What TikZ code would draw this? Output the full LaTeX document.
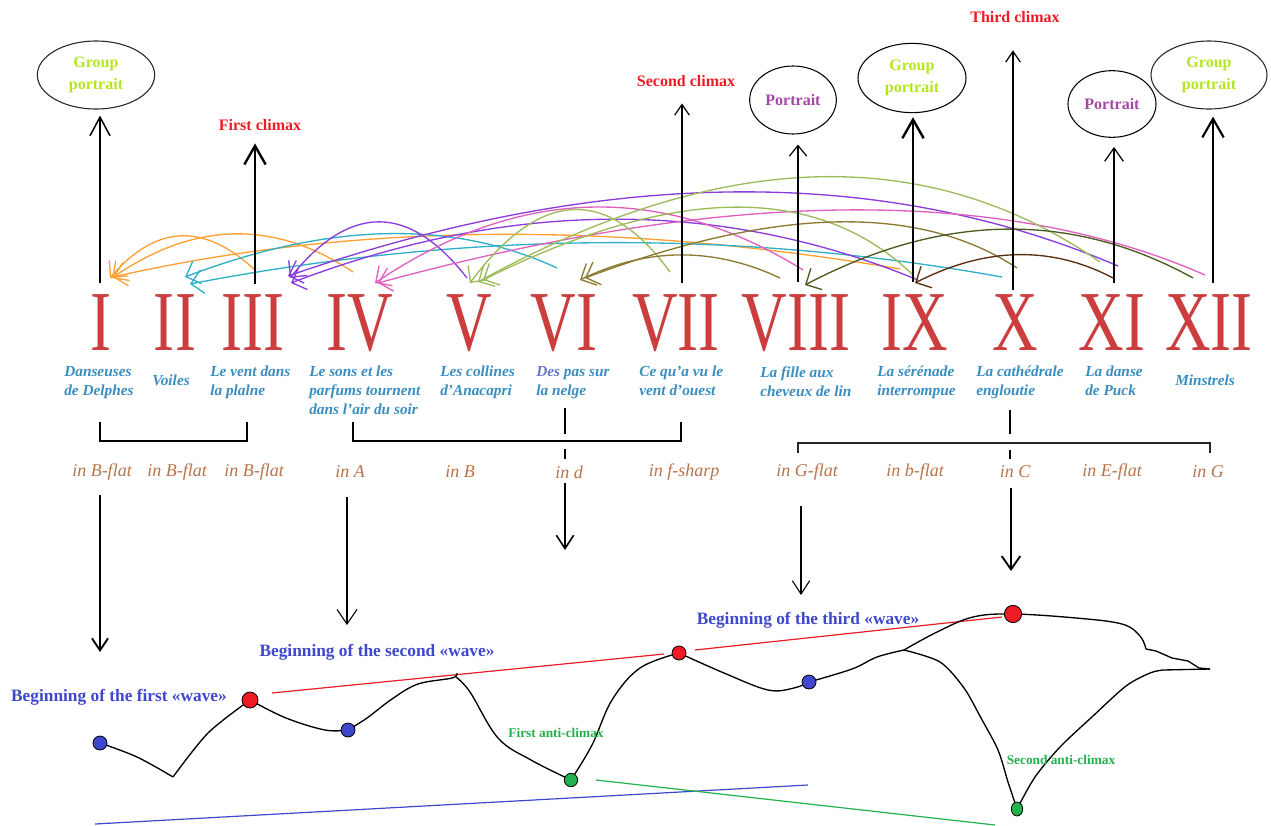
\documentclass[tikz,border=0pt]{standalone}
\usepackage{fontspec}
\setmainfont{Liberation Serif}
\usetikzlibrary{arrows.meta,shapes.geometric,calc}
\definecolor{numred}{HTML}{CC3D3D}
\definecolor{ttlblue}{HTML}{3A8DBF}
\definecolor{desc}{HTML}{6878C0}
\definecolor{keybrown}{HTML}{B8734A}
\definecolor{limec}{HTML}{B5E61D}
\definecolor{portpurple}{HTML}{A349A4}
\definecolor{climred}{HTML}{ED1C24}
\definecolor{waveblue}{HTML}{3F48CC}
\definecolor{antigreen}{HTML}{22B14C}
\definecolor{arcorange}{HTML}{FFA033}
\definecolor{arccyan}{HTML}{30B0C8}
\definecolor{arcpurple}{HTML}{8C3CDC}
\definecolor{arcpink}{HTML}{E060C0}
\definecolor{arcgreen}{HTML}{9CBB5A}
\definecolor{arcolive}{HTML}{8C7A30}
\definecolor{arcdolive}{HTML}{4B5A1E}
\definecolor{arcbrown}{HTML}{5A2D10}
\newcommand\rn[1]{\scalebox{0.74}[1]{#1}}
\newcommand\qarc[4]{\draw[arcline,#1] (#2) .. controls ($(#2)!0.6667!(#3)$) and ($(#4)!0.6667!(#3)$) .. (#4);}
\begin{document}
\begin{tikzpicture}[x=0.75pt,y=-0.75pt,
  num/.style={text=numred,font=\fontsize{64}{64}\selectfont,inner sep=0,anchor=base,text depth=0pt,text height=43pt},
  ttl/.style={text=ttlblue,font=\bfseries\itshape\fontsize{11.5}{14.2}\selectfont,align=left,anchor=north west,inner sep=0},
  keyt/.style={text=keybrown,font=\itshape\fontsize{13.5}{16}\selectfont,inner sep=1pt},
  gp/.style={ellipse,draw=black!85,line width=0.8pt,text=limec,font=\bfseries\fontsize{12}{17}\selectfont,align=center,inner sep=0},
  pt/.style={ellipse,draw=black,line width=0.8pt,text=portpurple,font=\bfseries\fontsize{12}{17}\selectfont,align=center,inner sep=0},
  clim/.style={text=climred,font=\bfseries\fontsize{12}{14}\selectfont,inner sep=0},
  wv/.style={text=waveblue,font=\bfseries\fontsize{13}{15}\selectfont,inner sep=0},
  anti/.style={text=antigreen,font=\bfseries\fontsize{10}{12}\selectfont,inner sep=0},
  upthin/.style={line width=0.9pt,-{Straight Barb[length=8pt,width=11pt]}},
  upthick/.style={line width=1.8pt,-{Straight Barb[length=14pt,width=16pt]}},
  upmid/.style={line width=1.1pt,-{Straight Barb[length=14pt,width=15pt]}},
  arcline/.style={line width=1pt,-{Straight Barb[length=9pt,width=18pt]}},
  brk/.style={line width=1.2pt},
  wave/.style={line width=1pt,black},
  dot/.style={circle,draw=black,line width=0.6pt,minimum size=10.5pt,inner sep=0}]
\useasboundingbox (0,0) rectangle (1271,825);

% ---------- arcs ----------
\coordinate (o1s) at (255,270); \coordinate (o1t) at (110,278);
\coordinate (o2s) at (353,272); \coordinate (o2t) at (112,278);
\coordinate (o3s) at (900,269); \coordinate (o3t) at (113,277);
\coordinate (c1s) at (557,268); \coordinate (c1t) at (185,277);
\coordinate (c2s) at (1002,277); \coordinate (c2t) at (190,284);
\coordinate (p1s) at (467,278); \coordinate (p1t) at (290,278);
\coordinate (p2s) at (1118,266); \coordinate (p2t) at (288,276);
\coordinate (p3s) at (918,280); \coordinate (p3t) at (291,283);
\coordinate (k1s) at (803,270); \coordinate (k1t) at (375,283);
\coordinate (k2s) at (1205,275); \coordinate (k2t) at (378,283);
\coordinate (g1s) at (670,272); \coordinate (g1t) at (470,283);
\coordinate (g2s) at (1100,262); \coordinate (g2t) at (478,282);
\coordinate (g3s) at (913,275); \coordinate (g3t) at (483,280);
\coordinate (v1s) at (780,278); \coordinate (v1t) at (580,280);
\coordinate (v2s) at (1017,268); \coordinate (v2t) at (585,278);
\coordinate (d1s) at (1193,278); \coordinate (d1t) at (805,285);
\coordinate (b1s) at (1113,278); \coordinate (b1t) at (915,283);

\qarc{arcorange}{o1s}{178,198}{o1t}
\qarc{arcorange}{o2s}{235,193}{o2t}
\qarc{arcorange}{o3s}{470,196}{o3t}
\qarc{arccyan}{c1s}{400,195}{c1t}
\qarc{arccyan}{c2s}{600,205}{c2t}
\qarc{arcpurple}{p1s}{380,166}{p1t}
\qarc{arcpurple}{p2s}{760,113}{p2t}
\qarc{arcpurple}{p3s}{620,157}{p3t}
\qarc{arcpink}{k1s}{590,138}{k1t}
\qarc{arcpink}{k2s}{900,141}{k2t}
\qarc{arcgreen}{g1s}{575,142}{g1t}
\qarc{arcgreen}{g2s}{840,82}{g2t}
\qarc{arcgreen}{g3s}{770,137}{g3t}
\qarc{arcolive}{v1s}{680,231}{v1t}
\qarc{arcolive}{v2s}{870,171}{v2t}
\qarc{arcdolive}{d1s}{1010,177}{d1t}
\qarc{arcbrown}{b1s}{1020,229}{b1t}

% ---------- roman numerals ----------
\node[num] (n1) at (101,350) {\rn{I}};
\node[num] (n2) at (175,350) {\rn{II}};
\node[num] (n3) at (253,350) {\rn{III}};
\node[num] (n4) at (360,350) {\rn{IV}};
\node[num] (n5) at (469,350) {\rn{V}};
\node[num] (n6) at (564,350) {\rn{VI}};
\node[num] (n7) at (676,350) {\rn{VII}};
\node[num] (n8) at (796,350) {\rn{VIII}};
\node[num] (n9) at (915,350) {\rn{IX}};
\node[num] (n10) at (1015,350) {\rn{X}};
\node[num] (n11) at (1112,350) {\rn{XI}};
\node[num] (n12) at (1209,350) {\rn{XII}};

% ---------- titles ----------
\node[ttl] (t1) at (64,366) {Danseuses\\de Delphes};
\node[ttl] (t2) at (152,375) {Voiles};
\node[ttl] (t3) at (210,366) {Le vent dans\\la plalne};
\node[ttl] (t4) at (309,366) {Le sons et les\\parfums tournent\\dans l’air du soir};
\node[ttl] (t5) at (440,366) {Les collines\\d’Anacapri};
\node[ttl] (t6) at (536,366) {\textcolor{desc}{Des} pas sur\\la nelge};
\node[ttl] (t7) at (639,366) {Ce qu’a vu le\\vent d’ouest};
\node[ttl] (t8) at (760,366) {La fille aux\\cheveux de lin};
\node[ttl] (t9) at (877,366) {La sérénade\\interrompue};
\node[ttl] (t10) at (976,366) {La cathédrale\\engloutie};
\node[ttl] (t11) at (1085,366) {La danse\\de Puck};
\node[ttl] (t12) at (1175,375) {Minstrels};

% ---------- keys ----------
\node[keyt] (k1) at (102,472) {in B-flat};
\node[keyt] (k2) at (177,472) {in B-flat};
\node[keyt] (k3) at (254,472) {in B-flat};
\node[keyt] (k4) at (350,472) {in A};
\node[keyt] (k5) at (460,472) {in B};
\node[keyt] (k6) at (569,472) {in d};
\node[keyt] (k7) at (684,472) {in f-sharp};
\node[keyt] (k8) at (807,472) {in G-flat};
\node[keyt] (k9) at (915,472) {in b-flat};
\node[keyt] (k10) at (1015,472) {in C};
\node[keyt] (k11) at (1112,472) {in E-flat};
\node[keyt] (k12) at (1208,472) {in G};

% ---------- brackets ----------
\draw[brk] (100,422) -- (100,441) -- (247,441) -- (247,422);
\draw[brk] (353,422) -- (353,441) -- (681,441) -- (681,422);
\draw[line width=1.1pt] (565,408) -- (565,434);
\draw[line width=1.1pt] (565,449) -- (565,459);
\draw[line width=2.2pt,black!85] (798,453) -- (798,443) -- (1210,443) -- (1210,453);
\draw[line width=1.1pt] (1010,410) -- (1010,434);
\draw[line width=1.1pt] (1010,450) -- (1010,459);

% ---------- upward arrows ----------
\coordinate (a1) at (100,283);
\coordinate (a3) at (255,284);
\coordinate (a7) at (682,283);
\coordinate (a8) at (798,282);
\coordinate (a9) at (913,282);
\coordinate (a10) at (1013,290);
\coordinate (a11) at (1114,283);
\coordinate (a12) at (1213,283);

\node[gp,minimum width=88pt,minimum height=51pt] (e1) at (96,75) {Group\\portrait};
\node[pt,minimum width=65pt,minimum height=51pt] (e8) at (793,100) {Portrait};
\node[gp,draw=black,minimum width=81pt,minimum height=52pt] (e9) at (912,78) {Group\\portrait};
\node[pt,minimum width=66pt,minimum height=50pt] (e11) at (1112,104) {Portrait};
\node[gp,minimum width=87pt,minimum height=51pt] (e12) at (1209,75) {Group\\portrait};
\node[clim] (c1) at (260,125) {First climax};
\node[clim] (c2) at (686,81) {Second climax};
\node[clim] (c3) at (1015,17) {Third climax};

\draw[upmid,shorten >=4.5pt] (a1) -- (a1 |- e1.south);
\draw[upthick,shorten >=9.4pt] (a3) -- (a3 |- c1.south);
\draw[upthin,shorten >=12.4pt] (a7) -- (a7 |- c2.south);
\draw[upthin,-{Straight Barb[length=8pt,width=13pt]},shorten >=7.5pt] (a8) -- (a8 |- e8.south);
\draw[upthick,shorten >=3pt] (a9) -- (a9 |- e9.south);
\draw[upthin,shorten >=20.6pt] (a10) -- (a10 |- c3.south);
\draw[upthin,-{Straight Barb[length=10pt,width=14pt]},shorten >=6.8pt] (a11) -- (a11 |- e11.south);
\draw[upthick,line width=1.6pt,shorten >=5.3pt] (a12) -- (a12 |- e12.south);

% ---------- downward arrows ----------
\coordinate (ds1) at (100,495); \coordinate (de1) at (100,652);
\coordinate (ds4) at (347,497); \coordinate (de4) at (347,625);
\coordinate (ds6) at (565,483); \coordinate (de6) at (565,550);
\coordinate (ds8) at (801,506); \coordinate (de8) at (801,595);
\coordinate (ds10) at (1011,488); \coordinate (de10) at (1011,571);
\draw[line width=1.4pt,-{Straight Barb[length=9pt,width=12pt]}] (ds1) -- (de1);
\draw[line width=0.8pt,-{Straight Barb[length=11pt,width=15pt]}] (ds4) -- (de4);
\draw[line width=1.2pt,-{Straight Barb[length=10pt,width=13pt]}] (ds6) -- (de6);
\draw[line width=0.8pt,-{Straight Barb[length=10pt,width=13pt]}] (ds8) -- (de8);
\draw[line width=1.4pt,-{Straight Barb[length=10pt,width=14pt]}] (ds10) -- (de10);

% ---------- wave ----------
\draw[climred,line width=0.9pt] (272,693) -- (664,654);
\draw[climred,line width=0.9pt] (695,650) -- (1002,617);
\draw[waveblue,line width=0.9pt] (95,824) -- (808,785);
\draw[antigreen,line width=0.9pt] (596,780) -- (995,825);

\coordinate (p1) at (100,743);
\coordinate (p2) at (250,700);
\coordinate (p3) at (348,730);
\coordinate (p4) at (571,780);
\coordinate (p5) at (679,653);
\coordinate (p6) at (809,682);
\coordinate (p7) at (1013,614);
\coordinate (p8) at (1017,809);

\draw[wave] plot[smooth,tension=0.6] coordinates {(p1) (137,757) (173,777)};
\draw[wave] plot[smooth,tension=0.5] coordinates {(173,777) (208,733) (p2)};
\draw[wave] plot[smooth,tension=0.6] coordinates {(p2) (286,718) (325,730) (p3)};
\draw[wave] plot[smooth,tension=0.6] coordinates {(p3) (367,718) (392,699) (418,684) (452,678) (457,673)};
\draw[wave] plot[smooth,tension=0.6] coordinates {(456,677) (470,692) (498,738) (531,760) (p4)};
\draw[wave] plot[smooth,tension=0.6] coordinates {(p4) (592,745) (612,700) (640,668) (p5)};
\draw[wave] plot[smooth,tension=0.6] coordinates {(p5) (724,673) (768,690) (794,688) (p6)};
\draw[wave] plot[smooth,tension=0.6] coordinates {(p6) (852,669) (877,657) (904,650)};
\draw[wave] plot[smooth,tension=0.6] coordinates {(904,650) (937,632) (973,617) (p7) (1076,618) (1122,624) (1140,636) (1146,649)};
\draw[wave] (1146,649) -- (1156,651) -- (1172,658) -- (1188,661) -- (1199,668) -- (1210,669);
\draw[wave] plot[smooth,tension=0.5] coordinates {(904,650) (940,662) (964,688) (981,718) (998,750) (1008,782) (p8)};
\draw[wave] plot[smooth,tension=0.5] coordinates {(p8) (1035,777) (1060,747) (1093,716) (1126,686) (1150,673) (1163,670)};
\draw[wave] (1163,670) -- (1210,669);

\node[dot,fill=waveblue] (w1) at (p1) {};
\node[dot,fill=climred,minimum size=12pt] (w2) at (p2) {};
\node[dot,fill=waveblue] (w3) at (p3) {};
\node[dot,fill=antigreen,minimum size=10pt] (w4) at (p4) {};
\node[dot,fill=climred] (w5) at (p5) {};
\node[dot,fill=waveblue] (w6) at (p6) {};
\node[dot,fill=climred,minimum size=13pt] (w7) at (p7) {};
\node[ellipse,draw=black,line width=0.6pt,fill=antigreen,minimum width=8.5pt,minimum height=10.5pt,inner sep=0] (w8) at (p8) {};

\node[wv] (L1) at (119,697) {Beginning of the first «wave»};
\node[wv] (L2) at (377,652) {Beginning of the second «wave»};
\node[wv] (L3) at (808,620) {Beginning of the third «wave»};
\node[anti] (A1) at (556,733) {First anti-climax};
\node[anti] (A2) at (1061,760) {Second anti-climax};
\end{tikzpicture}
\end{document}
